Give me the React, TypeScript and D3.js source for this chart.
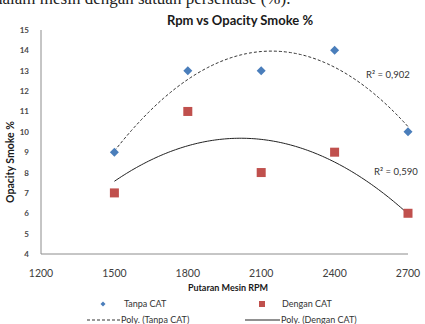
import React from 'react';
import * as d3 from 'd3';

const rpm = [1500, 1800, 2100, 2400, 2700];
const tanpaCat = [9, 13, 13, 14, 10];
const denganCat = [7, 11, 8, 9, 6];
const xTicks = [1200, 1500, 1800, 2100, 2400, 2700];
const yTicks = [4, 5, 6, 7, 8, 9, 10, 11, 12, 13, 14, 15];

// least squares order-2 fit, like Excel's "Poly." trendline
function polyFit(xs: number[], ys: number[]) {
  const m = d3.mean(xs) as number;
  const u = xs.map(x => (x - m) / 1000);
  const s = (k: number) => d3.sum(u, v => Math.pow(v, k));
  const t = (k: number) => d3.sum(u, (v, i) => Math.pow(v, k) * ys[i]);
  const A = [
    [s(0), s(1), s(2), t(0)],
    [s(1), s(2), s(3), t(1)],
    [s(2), s(3), s(4), t(2)],
  ];
  for (let i = 0; i < 3; i++) {
    for (let j = i + 1; j < 3; j++) {
      const f = A[j][i] / A[i][i];
      for (let k = i; k < 4; k++) A[j][k] -= f * A[i][k];
    }
  }
  const c = [0, 0, 0];
  for (let i = 2; i >= 0; i--) {
    let v = A[i][3];
    for (let k = i + 1; k < 3; k++) v -= A[i][k] * c[k];
    c[i] = v / A[i][i];
  }
  return (x: number) => {
    const w = (x - m) / 1000;
    return c[0] + c[1] * w + c[2] * w * w;
  };
}

const font = 'Lato, "Liberation Sans", sans-serif';

export default function App() {
  const width = 425;
  const height = 324;
  const x = d3.scaleLinear().domain([1200, 2700]).range([41, 408]);
  const y = d3.scaleLinear().domain([4, 15]).range([254, 30]);

  const curve = (f: (v: number) => number) => {
    const pts = d3.range(1500, 2701, 10);
    return d3.line<number>().x(d => x(d)).y(d => y(f(d)))(pts) || '';
  };
  const fitT = polyFit(rpm, tanpaCat);
  const fitD = polyFit(rpm, denganCat);

  const diamond = (cx: number, cy: number, r: number) =>
    `M${cx},${cy - r}L${cx + r},${cy}L${cx},${cy + r}L${cx - r},${cy}Z`;

  return (
    <svg width={width} height={height} style={{ position: 'absolute', left: 0, top: 0, background: '#fff' }}>
      <text x={-6} y={4} fontFamily='"Liberation Serif", serif' fontSize={17} fill="#222">
        dalam mesin dengan satuan persentase (%).
      </text>

      <text x={240} y={25} textAnchor="middle" fontFamily={font} fontWeight="bold" fontSize={13} fill="#1a1a1a">
        Rpm vs Opacity Smoke %
      </text>

      {/* axes */}
      <line x1={41} x2={41} y1={30} y2={254} stroke="#8c8c8c" strokeWidth={1} />
      <line x1={41} x2={408} y1={254} y2={254} stroke="#8c8c8c" strokeWidth={1} />

      {yTicks.map(t => (
        <text key={t} x={29} y={y(t) + 3} textAnchor="end" fontFamily={font} fontSize={8} fontWeight="bold" fill="#4a4a4a">
          {t}
        </text>
      ))}
      {xTicks.map(t => (
        <text key={t} x={x(t)} y={277} textAnchor="middle" fontFamily={font} fontSize={10.5} fill="#404040">
          {t}
        </text>
      ))}

      <text transform="translate(14,162) rotate(-90)" textAnchor="middle" fontFamily={font} fontWeight="bold" fontSize={10.5} fill="#1a1a1a">
        Opacity Smoke %
      </text>
      <text x={228} y={291} textAnchor="middle" fontFamily={font} fontWeight="bold" fontSize={9} fill="#1a1a1a">
        Putaran  Mesin RPM
      </text>

      {/* trend lines */}
      <path d={curve(fitT)} fill="none" stroke="#333" strokeWidth={1} strokeDasharray="3,2" />
      <path d={curve(fitD)} fill="none" stroke="#222" strokeWidth={1} />

      {rpm.map((r, i) => (
        <path key={'t' + r} d={diamond(x(r), y(tanpaCat[i]), 4.5)} fill="#4a7ebb" />
      ))}
      {rpm.map((r, i) => (
        <rect key={'d' + r} x={x(r) - 4.5} y={y(denganCat[i]) - 4.5} width={9} height={9} fill="#c0504d" />
      ))}

      <text x={366} y={78} fontFamily={font} fontSize={9.5} fill="#333">R² = 0,902</text>
      <text x={374} y={175} fontFamily={font} fontSize={9.5} fill="#333">R² = 0,590</text>

      {/* legend */}
      <path d={diamond(103, 304, 2.5)} fill="#4a7ebb" />
      <text x={124} y={307} fontFamily={font} fontSize={9} fill="#333">Tanpa CAT</text>
      <rect x={259} y={301} width={6} height={6} fill="#c0504d" />
      <text x={282} y={307} fontFamily={font} fontSize={9} fill="#333">Dengan CAT</text>

      <line x1={87} x2={120} y1={320} y2={320} stroke="#333" strokeWidth={1} strokeDasharray="3,2" />
      <text x={121} y={323} fontFamily={font} fontSize={9} fill="#333">Poly. (Tanpa CAT)</text>
      <line x1={245} x2={280} y1={320} y2={320} stroke="#222" strokeWidth={1} />
      <text x={281} y={323} fontFamily={font} fontSize={9} fill="#333">Poly. (Dengan CAT)</text>
    </svg>
  );
}
